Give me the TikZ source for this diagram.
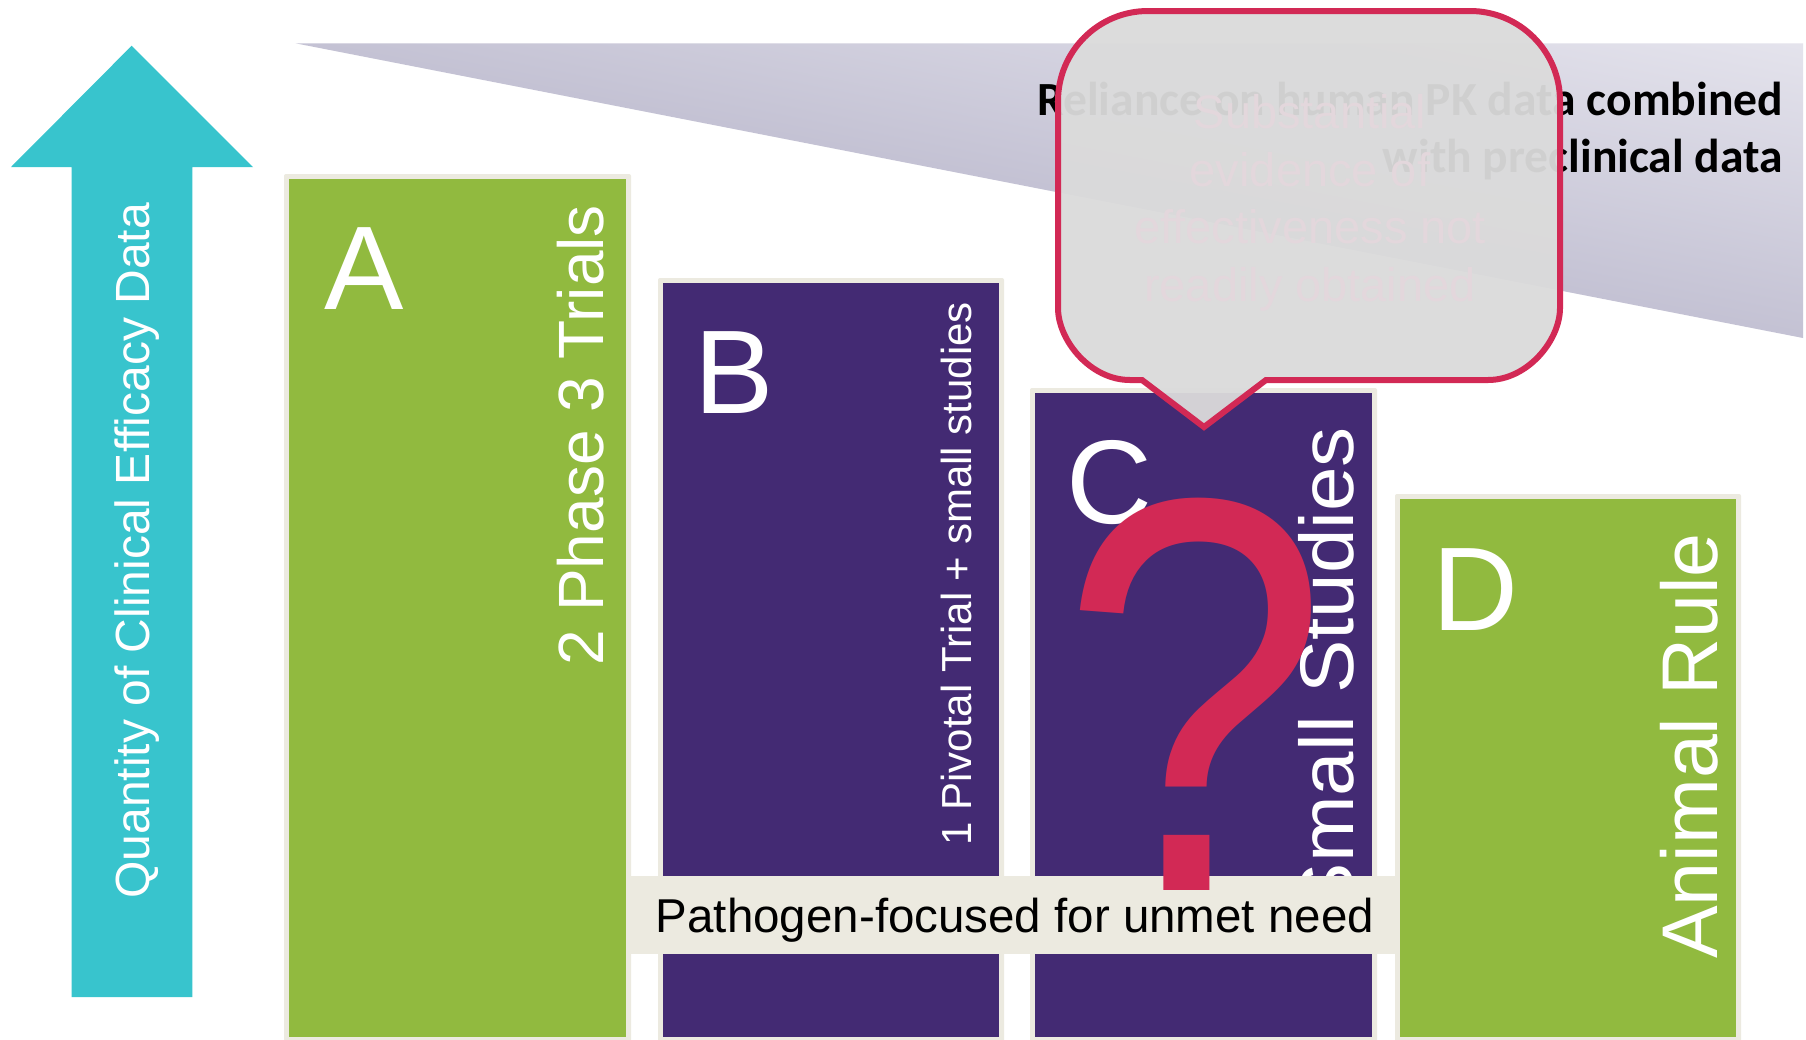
\documentclass[tikz,border=0pt]{standalone}
\usepackage{fontspec}
\setmainfont{Liberation Sans}
\newfontfamily\carlito{Carlito}
\definecolor{cyanarrow}{RGB}{56,196,205}
\definecolor{boxgreen}{RGB}{145,186,63}
\definecolor{boxpurple}{RGB}{67,42,115}
\definecolor{cream}{RGB}{236,234,224}
\definecolor{qred}{RGB}{210,41,85}
\definecolor{calloutfill}{RGB}{219,219,219}
\definecolor{callouttext}{RGB}{227,215,220}
\definecolor{trilight}{RGB}{229,228,237}
\definecolor{tridark}{RGB}{195,193,211}
\tikzset{
  frame/.style={fill=cream, rounded corners=2pt},
  bigletter/.style={anchor=base west, text=white, font=\fontsize{119}{119}\selectfont},
  sidelabel/.style={rotate=90, anchor=base east, text=white},
  callline/.style={anchor=base, text=callouttext, font=\fontsize{47}{47}\selectfont},
  relline/.style={anchor=base east, text=black, font=\carlito\bfseries\fontsize{47.6}{47.6}\selectfont}
}
\begin{document}
\begin{tikzpicture}[x=1pt,y=-1pt, every node/.style={inner sep=0pt, outer sep=0pt}]
\useasboundingbox (0,0) rectangle (1806,1039);
\fill[white] (0,0) rectangle (1806,1039);

% shaded wedge
\begin{scope}
  \clip (295.5,43.3) -- (1803,43.3) -- (1803,338) -- cycle;
  \begin{scope}[transform canvas={rotate around={-11.03:(295.5,43.3)}}]
    \shade[top color=trilight, bottom color=tridark] (250,50) rectangle (1950,-252);
  \end{scope}
\end{scope}
\node[relline] (rel1) at (1783,115) {Reliance on human PK data combined};
\node[relline] (rel2) at (1783,172) {with preclinical data};

% arrow
\fill[cyanarrow] (131.7,45.7) -- (253,167) -- (192.3,167) -- (192.3,997) -- (71.5,997) -- (71.5,167) -- (11,167) -- cycle;
\node[sidelabel, font=\fontsize{48}{48}\selectfont] (arrowlbl) at (149,203) {Quantity of Clinical Efficacy Data};

% box A
\fill[frame] (284,174) rectangle (631,1045);
\fill[boxgreen] (289,179) rectangle (626,1037);
\node[bigletter] (letA) at (324,309) {A};
\node[sidelabel, font=\fontsize{64}{64}\selectfont] (lblA) at (603,205) {2 Phase 3 Trials};

% box B
\fill[frame] (658,278) rectangle (1004,1045);
\fill[boxpurple] (663,283) rectangle (999,1037);
\node[bigletter] (letB) at (694,413) {B};
\node[sidelabel, font=\fontsize{42}{42}\selectfont] (lblB) at (971,302) {1 Pivotal Trial + small studies};

% box C
\fill[frame] (1030,388) rectangle (1377,1045);
\fill[boxpurple] (1035,393) rectangle (1372,1037);
\node[bigletter] (letC) at (1066,523) {C};
\node[sidelabel, font=\fontsize{80}{80}\selectfont] (lblC) at (1353,427) {\scalebox{1}[0.95]{Small Studies}};

% box D
\fill[frame] (1395,494) rectangle (1741,1045);
\fill[boxgreen] (1400,499) rectangle (1736,1037);
\node[bigletter] (letD) at (1432,630) {D};
\node[sidelabel, font=\fontsize{79}{79}\selectfont] (lblD) at (1717,533) {Animal Rule};

% band
\fill[cream] (631,876) rectangle (1395,954);
\node[anchor=base, font=\fontsize{47.5}{47.5}\selectfont] (band) at (1015,932) {Pathogen-focused for unmet need};

% question mark
\node[anchor=base, text=qred, font=\fontsize{562}{562}\selectfont] (qmark) at (1195,890) {\scalebox{0.86}[1]{?}};

% callout
\filldraw[draw=qred, line width=6pt, line join=miter, fill=calloutfill, fill opacity=0.95]
  (1142,380) -- (1204,427) -- (1266,380) -- (1488,380)
  .. controls (1527.8,380) and (1560,340.2) .. (1560,308) -- (1560,101)
  .. controls (1560,51.3) and (1519.7,11) .. (1470,11) -- (1148,11)
  .. controls (1098.3,11) and (1058,51.3) .. (1058,101) -- (1058,308)
  .. controls (1058,340.2) and (1090.2,380) .. (1130,380) -- cycle;
\node[callline] (call1) at (1310,128) {Substantial};
\node[callline] (call2) at (1310,186) {evidence of};
\node[callline] (call3) at (1310,243) {effectiveness not};
\node[callline] (call4) at (1310,301) {readily obtained};
\end{tikzpicture}
\end{document}
